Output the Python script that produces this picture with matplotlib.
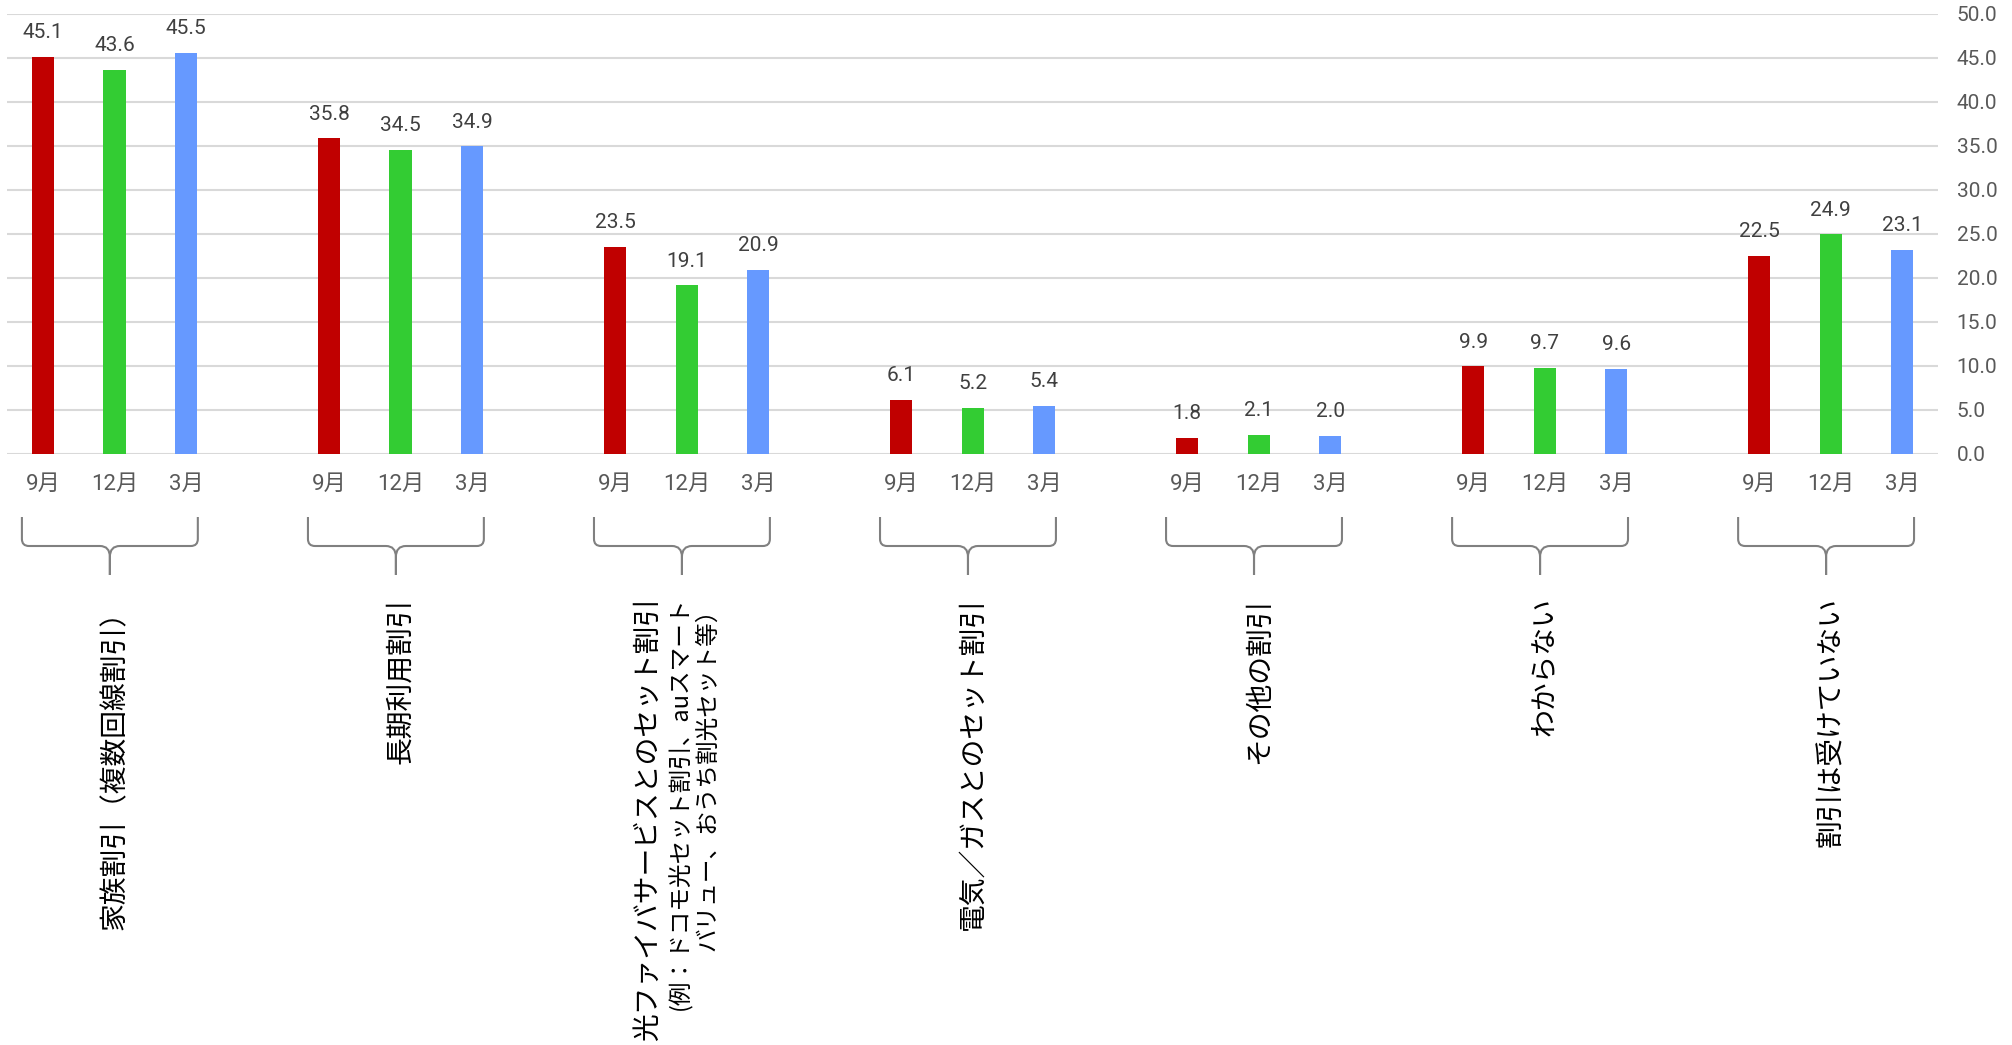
import numpy as np
import matplotlib
matplotlib.use("Agg")
import matplotlib.pyplot as plt
from matplotlib.path import Path
from matplotlib.patches import PathPatch
import matplotlib.transforms as mtransforms

plt.rcParams['font.family'] = ['Noto Sans CJK JP', 'DejaVu Sans']
num_font = ['Roboto', 'Noto Sans CJK JP']

# data
categories = [
    ["家族割引（複数回線割引）"],
    ["長期利用割引"],
    ["光ファイバサービスとのセット割引", "(例：ドコモ光セット割引、auスマート", "バリュー、おうち割光セット等）"],
    ["電気／ガスとのセット割引"],
    ["その他の割引"],
    ["わからない"],
    ["割引は受けていない"],
]
months = ["9月", "12月", "3月"]
sep_vals = [45.1, 35.8, 23.5, 6.1, 1.8, 9.9, 22.5]
dec_vals = [43.6, 34.5, 19.1, 5.2, 2.1, 9.7, 24.9]
mar_vals = [45.5, 34.9, 20.9, 5.4, 2.0, 9.6, 23.1]
series = [sep_vals, dec_vals, mar_vals]
colors = ["#C00000", "#33CC33", "#6699FF"]

W, H = 2012, 1045
fig = plt.figure(figsize=(W / 100, H / 100), dpi=100)
ax = fig.add_axes([7.25 / W, 1 - 453.5 / H, 1930.75 / W, 440 / H])

n = len(categories)
group_x = np.arange(n) * 4
bw = 0.31

for j, vals in enumerate(series):
    xs = group_x + j
    ax.bar(xs, vals, width=bw, color=colors[j], zorder=3)
    for x, v in zip(xs, vals):
        ax.annotate(f"{v:.1f}", (x, v), xytext=(0, 13.5), textcoords="offset points",
                    ha="center", va="baseline", fontsize=15, color="#404040",
                    family=num_font)

ax.set_xlim(-0.5, 4 * n - 1.5)
ax.set_ylim(0, 50)
ticks = np.arange(0, 50.1, 5)
ax.set_yticks(ticks)
ax.set_yticklabels([f"{t:.1f}" for t in ticks], family=num_font)
ax.yaxis.tick_right()
ax.tick_params(axis="y", length=0, pad=13.5, labelsize=15, labelcolor="#595959")
ax.grid(axis="y", color="#D9D9D9", linewidth=1.5, zorder=0)
for s in ax.spines.values():
    s.set_visible(False)

xt = np.concatenate([group_x + j for j in range(3)])
xl = [months[j] for j in range(3) for _ in range(n)]
ax.set_xticks(xt)
ax.set_xticklabels(xl, family=num_font)
ax.tick_params(axis="x", length=0, pad=15, labelsize=16, labelcolor="#595959")

# braces under each group
trans = mtransforms.blended_transform_factory(ax.transData, fig.transFigure)
ppu = 1930.75 / (4 * n - 1)  # pixels per data unit
yT, yM, yB = 1 - 517 / H, 1 - 546 / H, 1 - 575 / H
r = 7
for gx in group_x:
    xL = gx - bw / 2 - 0.14
    xR = gx + 2 + bw / 2 + 0.01
    xc = (xL + xR) / 2
    for side, xe in ((1, xL), (-1, xR)):
        verts = [
            (xe, yT), (xe, yM + r / H),
            (xe, yM), (xe + side * r / ppu, yM),
            (xc - side * 10 / ppu, yM),
            (xc, yM), (xc, yM - 11 / H),
            (xc, yB),
        ]
        codes = [Path.MOVETO, Path.LINETO, Path.CURVE3, Path.CURVE3, Path.LINETO,
                 Path.CURVE3, Path.CURVE3, Path.LINETO]
        ax.add_patch(PathPatch(Path(verts, codes), transform=trans, fill=False,
                               edgecolor="#808080", linewidth=1.5, clip_on=False))

# rotated category labels
ytop = 1 - 597 / H
for i, lines in enumerate(categories):
    cx = group_x[i] + 1
    if len(lines) == 1:
        ax.text(cx, ytop, lines[0], transform=trans, rotation=90, ha="center", va="top",
                fontsize=20, color="#000000")
    else:
        offs = [-0.54, -0.09, 0.30]
        sizes = [20, 17, 17]
        for line, o, fs in zip(lines, offs, sizes):
            ax.text(cx + o, ytop, line, transform=trans, rotation=90, ha="center", va="top",
                    fontsize=fs, color="#000000")

fig.savefig("out.png", dpi=100)
